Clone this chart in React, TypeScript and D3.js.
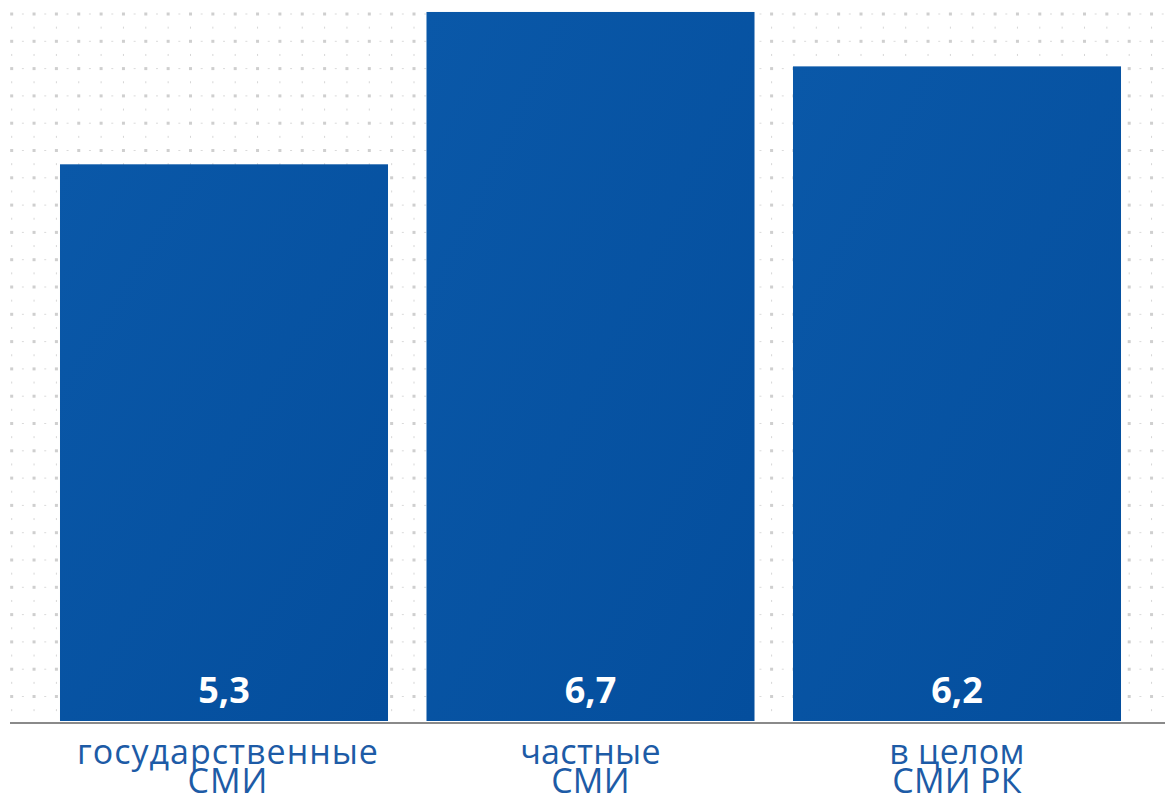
import React from "react";
import * as d3 from "d3";

const categories: string[][] = [
  ["государственные", "СМИ"],
  ["частные", "СМИ"],
  ["в целом", "СМИ РК"],
];
const values: number[] = [5.3, 6.7, 6.2];
const valueLabels: string[] = ["5,3", "6,7", "6,2"];

const W = 1165;
const H = 795;
const baseY = 721;

export default function App() {
  const x = d3
    .scaleBand<number>()
    .domain(d3.range(values.length))
    .range([40.75, 1140.25])
    .paddingInner(0.105)
    .paddingOuter(0.0525);
  const y = d3.scaleLinear().domain([0, 6.81]).range([741, 0]);

  const colStep = 22.35;
  const rowStep = 27.3;
  const cols = d3.range(0, Math.ceil(W / colStep) + 1).map((i) => 11.7 + i * colStep);
  const rows = d3.range(0, Math.floor((baseY - 14) / rowStep) + 1).map((j) => 14 + j * rowStep);

  const font = "'Open Sans', 'DejaVu Sans', sans-serif";

  return (
    <div style={{ position: "absolute", left: 0, top: 0, width: W, height: H, background: "#fff" }}>
      <svg width={W} height={H} style={{ display: "block" }}>
        <defs>
          <linearGradient id="barGrad" x1="0" y1="0" x2="1" y2="1">
            <stop offset="0" stopColor="#0a58a8" />
            <stop offset="1" stopColor="#044e9d" />
          </linearGradient>
        </defs>
        <g>
          {rows.map((ry, j) => (
            <g key={"r" + j}>
              {cols.map((cx, i) => (
                <g key={i}>
                  <rect x={cx - 1.5} y={ry - 1.5} width={3} height={3} fill="#cfcfcf" />
                  <rect x={cx + colStep / 2 - 1} y={ry - 0.5} width={2} height={1} fill="#dadada" />
                  {ry + rowStep / 2 < baseY - 2 && (
                    <rect x={cx - 0.5} y={ry + rowStep / 2 - 1} width={1} height={2} fill="#d6d6d6" />
                  )}
                </g>
              ))}
            </g>
          ))}
        </g>
        <line x1={10} x2={W} y1={baseY + 2} y2={baseY + 2} stroke="#8a8a8a" strokeWidth={2} />
        {values.map((v, i) => {
          const bx = x(i)!;
          const bw = x.bandwidth();
          const cx = bx + bw / 2;
          return (
            <g key={i}>
              <rect x={bx} y={y(v)} width={bw} height={baseY - y(v)} fill="url(#barGrad)" />
              <text
                x={cx}
                y={703}
                textAnchor="middle"
                fill="#ffffff"
                fontFamily={font}
                fontWeight={700}
                fontSize={36}
              >
                {valueLabels[i]}
              </text>
              {categories[i].map((line, k) => (
                <text
                  key={k}
                  x={cx + (i === 0 ? 4 : 0)}
                  y={764 + k * 29}
                  textAnchor="middle"
                  fill="#1d5ba6"
                  fontFamily={font}
                  fontWeight={500}
                  fontSize={34}
                  letterSpacing={i === 0 ? 1 : 0.3}
                >
                  {line}
                </text>
              ))}
            </g>
          );
        })}
      </svg>
    </div>
  );
}
